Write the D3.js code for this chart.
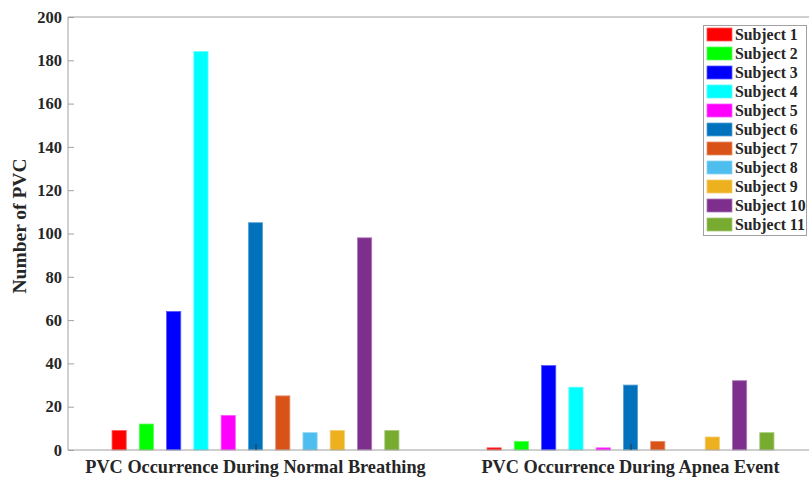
<!DOCTYPE html>
<html>
<head>
<meta charset="utf-8">
<script src="https://cdn.jsdelivr.net/npm/d3@7"></script>
<style>
  body { margin: 0; background: #fff; }
  text { font-family: "Liberation Serif", "Times New Roman", serif; font-weight: bold; fill: #262626; }
</style>
</head>
<body>
<svg id="svg1" width="809" height="479"></svg>
<script>
var svg = d3.select('#svg1');

// data
var groups = ['PVC Occurrence During Normal Breathing', 'PVC Occurrence During Apnea Event'];
var subjects = ['Subject 1', 'Subject 2', 'Subject 3', 'Subject 4', 'Subject 5', 'Subject 6',
                'Subject 7', 'Subject 8', 'Subject 9', 'Subject 10', 'Subject 11'];
var normalValues = [9, 12, 64, 184, 16, 105, 25, 8, 9, 98, 9];
var apneaValues = [1, 4, 39, 29, 1, 30, 4, 0, 6, 32, 8];
var yTicks = [0, 20, 40, 60, 80, 100, 120, 140, 160, 180, 200];

var colors = ['#ff0000', '#00ff00', '#0000ff', '#00ffff', '#ff00ff', '#0072bd',
              '#d95319', '#4dbeee', '#edb120', '#7e2f8e', '#77ac30'];

var padding = {t: 17, l: 68, b: 29};
var plotBottom = 479 - padding.b;

var xScale = d3.scaleLinear().domain([0.5, 2.5]).range([padding.l, padding.l + 750]);
var yScale = d3.scaleLinear().domain([0, 200]).range([plotBottom, padding.t]);

// position of each subject inside a group (in x units)
var subScale = d3.scalePoint().domain(subjects).range([-0.4, 0.4]).padding(0.5);
var step = xScale(subScale.step()) - xScale(0);
var barW = step * 0.52;

var rows = [];
groups.forEach(function(g, gi) {
    var vals = gi === 0 ? normalValues : apneaValues;
    subjects.forEach(function(s, si) {
        rows.push({g: gi + 1, s: s, i: si, v: vals[si]});
    });
});

// top border of the axes box
svg.append('line')
    .attr('x1', padding.l).attr('x2', 809)
    .attr('y1', padding.t).attr('y2', padding.t)
    .attr('stroke', '#a0a0a0').attr('stroke-width', 1);

// bars
svg.selectAll('rect.bar')
    .data(rows)
    .enter()
    .append('rect')
      .attr('class', 'bar')
      .attr('x', function(d) { return xScale(d.g + subScale(d.s)) - barW / 2; })
      .attr('y', function(d) { return yScale(d.v); })
      .attr('width', barW)
      .attr('height', function(d) { return plotBottom - yScale(d.v); })
      .attr('fill', function(d) { return colors[d.i]; })
      .attr('stroke', function(d) { return d3.interpolateRgb(colors[d.i], '#ffffff')(0.35); })
      .attr('stroke-width', 0.8)
      .style('display', function(d) { return d.v > 0 ? null : 'none'; });

// y axis
var yAxis = svg.append('g')
    .attr('transform', 'translate(' + padding.l + ',0)')
    .call(d3.axisRight(yScale).tickValues(yTicks).tickSize(6).tickFormat(d3.format('d')));
yAxis.select('.domain').attr('stroke', '#a0a0a0').attr('d', 'M0,' + padding.t + 'V' + plotBottom);
yAxis.selectAll('.tick line').attr('stroke', '#a0a0a0');
yAxis.selectAll('.tick text')
    .attr('x', -6)
    .attr('text-anchor', 'end')
    .style('font-size', '16.5px')
    .style('font-family', '"Liberation Serif", serif');

// x axis
var xAxis = svg.append('g')
    .attr('transform', 'translate(0,' + plotBottom + ')')
    .call(d3.axisTop(xScale).tickValues([1, 2]).tickSize(6).tickFormat(''));
xAxis.select('.domain').attr('stroke', '#a0a0a0').attr('d', 'M' + padding.l + ',0H809');
xAxis.selectAll('.tick line').attr('stroke', '#333');

svg.selectAll('text.group_label')
    .data(groups)
    .enter()
    .append('text')
      .attr('class', 'group_label')
      .attr('x', function(d, i) { return xScale(i + 1); })
      .attr('y', plotBottom + 23)
      .attr('text-anchor', 'middle')
      .style('font-size', '18.3px')
      .text(function(d) { return d; });

svg.append('text')
    .attr('transform', 'translate(' + [26, 226] + ') rotate(270)')
    .attr('text-anchor', 'middle')
    .style('font-size', '19.5px')
    .text('Number of PVC');

// legend
var legend = svg.append('g').attr('class', 'legend');
legend.append('rect')
    .attr('x', 703.5).attr('y', 25.5)
    .attr('width', 103).attr('height', 210)
    .attr('fill', '#fff').attr('stroke', '#a0a0a0');

var item = legend.selectAll('g.item')
    .data(subjects)
    .enter()
    .append('g')
      .attr('class', 'item')
      .attr('transform', function(d, i) { return 'translate(' + [707, 28 + i * 19] + ')'; });
item.append('rect')
    .attr('width', 25).attr('height', 13)
    .attr('fill', function(d, i) { return colors[i]; })
    .attr('stroke', function(d, i) { return d3.interpolateRgb(colors[i], '#ffffff')(0.35); })
    .attr('stroke-width', 0.8);
item.append('text')
    .attr('x', 28).attr('y', 12)
    .style('font-size', '15.8px')
    .text(function(d) { return d; });
</script>
</body>
</html>
